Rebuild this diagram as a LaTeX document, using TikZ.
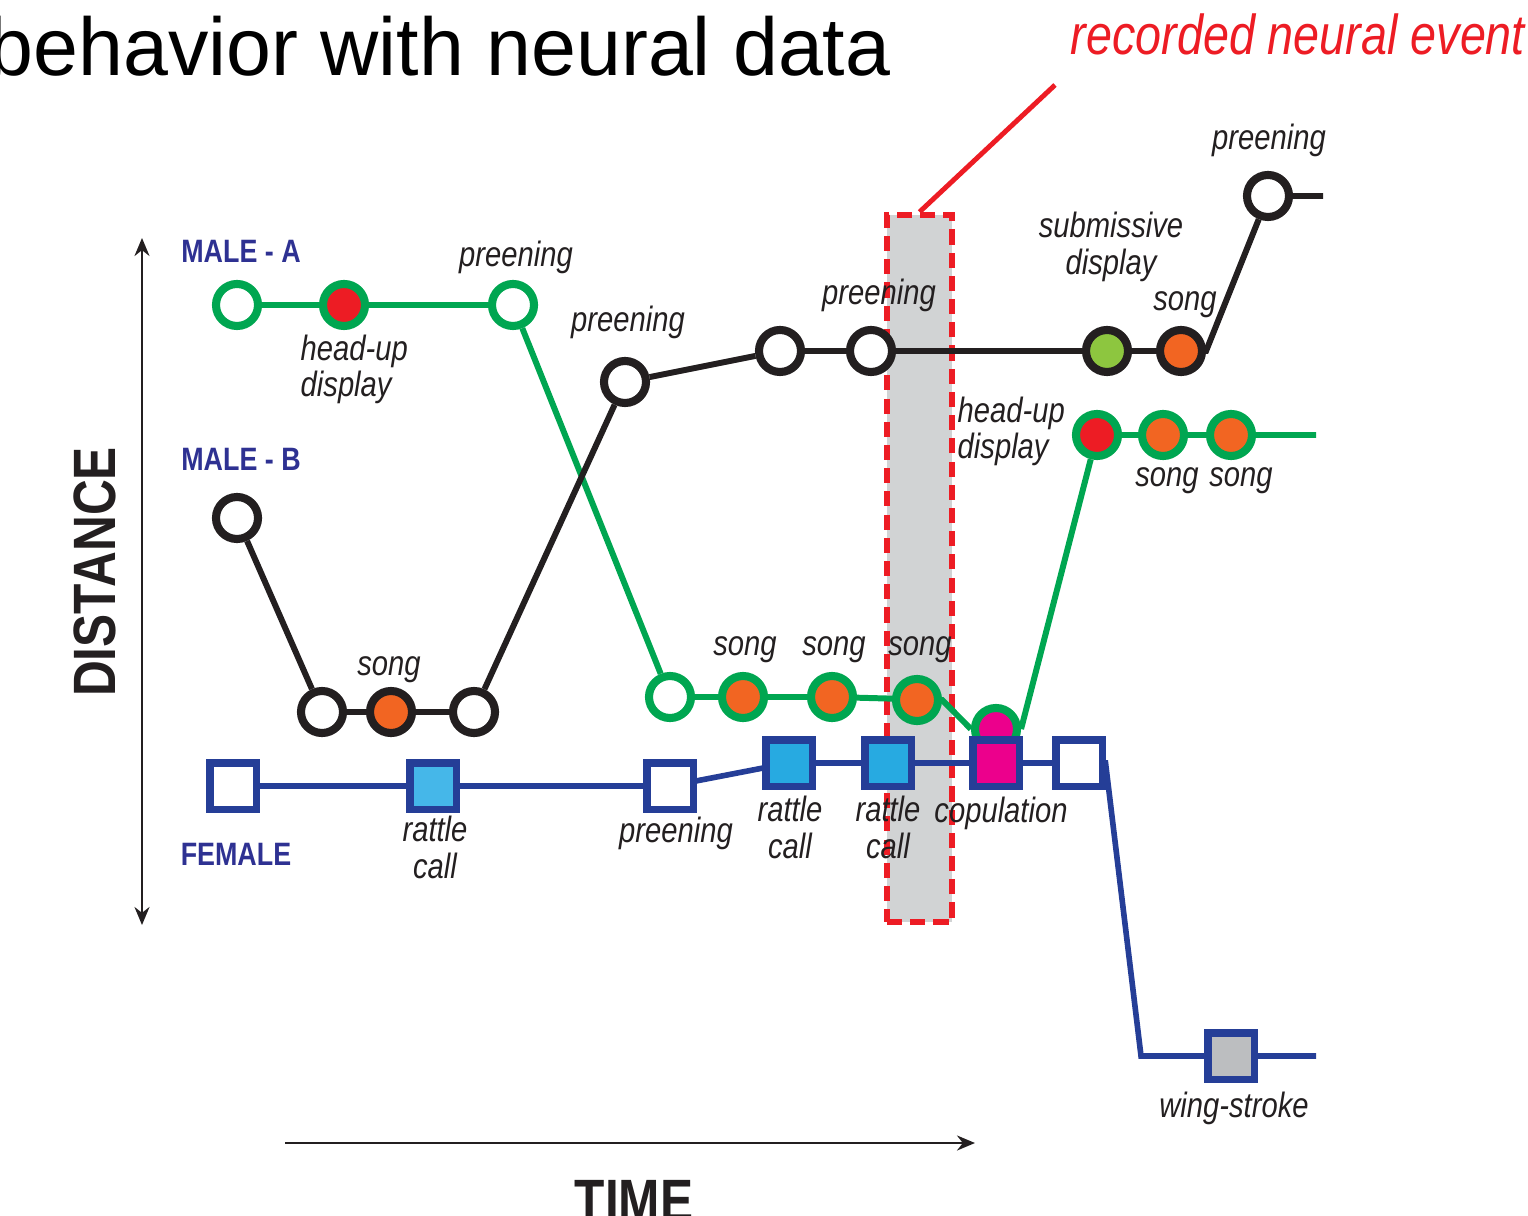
\documentclass[tikz,border=0pt]{standalone}
\usepackage{fontspec}
\setmainfont{Liberation Sans}
\newfontfamily\narrowfont[FakeStretch = 0.83]{Liberation Sans}
\newfontfamily\titlefont[FakeStretch = 0.985]{Liberation Sans}
\usetikzlibrary{arrows.meta, backgrounds}
\definecolor{maleagreen}{HTML}{00A651}
\definecolor{inkblack}{HTML}{231F20}
\definecolor{femaleblue}{HTML}{253E97}
\definecolor{tagblue}{HTML}{2E3192}
\definecolor{headred}{HTML}{ED1C24}
\definecolor{songorange}{HTML}{F26522}
\definecolor{submgreen}{HTML}{8DC63F}
\definecolor{copmagenta}{HTML}{EC008C}
\definecolor{rattleblue}{HTML}{27AAE1}
\definecolor{rattlelight}{HTML}{45B7E9}
\definecolor{winggrey}{HTML}{BCBEC0}
\definecolor{bandgrey}{HTML}{D1D3D4}

\begin{document}
\begin{tikzpicture}[x = 0.01cm, y = -0.01cm,
		malea/.style = {circle, draw = maleagreen, line width = 2.3pt, fill = white, minimum size = 0.42cm, inner sep = 0pt},
		maleb/.style = {malea, draw = inkblack},
		female/.style = {rectangle, draw = femaleblue, line width = 2pt, fill = white, minimum size = 0.46cm, inner sep = 0pt},
		track/.style = {line width = 1.7pt},
		act/.style = {font = \narrowfont\itshape\fontsize{10}{10.3}\selectfont, text = inkblack, inner sep = 0pt, anchor = base},
		who/.style = {font = \narrowfont\bfseries\fontsize{9.2}{10}\selectfont, text = tagblue, inner sep = 0pt, anchor = base},
		big/.style = {font = \narrowfont\bfseries\fontsize{17}{18}\selectfont, text = inkblack, inner sep = 0pt, anchor = base},
		axtip/.tip = {Stealth[length = 0.18cm, width = 0.15cm]}]
		\useasboundingbox (0, 0) rectangle (1528, 1216) ;
		% Title
		\node [anchor = base west, inner sep = 0pt, font = \titlefont\fontsize{23.3}{24}\selectfont] (title) at (-12, 76) {behavior with neural data} ;
		\begin{scope}[on background layer] % Recorded event
			\node [draw = headred, fill = bandgrey, line width = 1.6pt, dash pattern = on 4.3pt off 2.3pt, minimum width = 0.65cm, minimum height = 7.07cm, inner sep = 0pt] (band) at (919.5, 568.5) {} ;
		\end{scope}
		\node [anchor = base west, inner sep = 0pt, text = headred, font = \narrowfont\itshape\fontsize{16}{17}\selectfont] (eventtag) at (1070, 55) {recorded neural event} ;
		\coordinate (pointer) at (1055, 85) ;
		\draw [headred, line width = 1.4pt] (band.north) -- (pointer) ;
		% Axes
		\draw [line width = 0.7pt, inkblack, axtip-axtip] (142, 238) -- (142, 925) ;
		\draw [line width = 0.7pt, inkblack, -axtip] (285, 1143) -- (975, 1143) ;
		\node [big, rotate = 90] (distance) at (115, 572) {DISTANCE} ;
		\node [big] (time) at (634, 1221) {TIME} ;
		% Male - A
		\node [malea] (ma1) at (237, 305) {} ;
		\node [malea, fill = headred] (ma2) at (344, 305) {} ;
		\node [malea] (ma3) at (513, 305) {} ;
		\node [malea] (ma4) at (670, 697) {} ;
		\node [malea, fill = songorange] (ma5) at (743, 697) {} ;
		\node [malea, fill = songorange] (ma6) at (832, 697) {} ;
		\node [malea, fill = songorange] (ma7) at (917, 700) {} ;
		\node [malea, fill = copmagenta] (ma8) at (996, 729) {} ;
		\node [malea, fill = headred] (ma9) at (1097, 435) {} ;
		\node [malea, fill = songorange] (ma10) at (1163, 435) {} ;
		\node [malea, fill = songorange] (ma11) at (1231, 435) {} ;
		\coordinate (maend) at (1316, 435) ;
		% Male - B
		\node [maleb] (mb1) at (237, 518) {} ;
		\node [maleb] (mb2) at (322, 712) {} ;
		\node [maleb, fill = songorange] (mb3) at (391, 712) {} ;
		\node [maleb] (mb4) at (474, 712) {} ;
		\node [maleb] (mb5) at (625, 382) {} ;
		\node [maleb] (mb6) at (780, 351) {} ;
		\node [maleb] (mb7) at (871, 351) {} ;
		\node [maleb, fill = submgreen] (mb8) at (1107, 351) {} ;
		\node [maleb, fill = songorange] (mb9) at (1181, 351) {} ;
		\node [maleb] (mb10) at (1268, 196) {} ;
		\coordinate (mbend) at (1323, 196) ;
		% Female
		\node [female] (fe1) at (233, 786) {} ;
		\node [female, fill = rattlelight] (fe2) at (433, 786) {} ;
		\node [female] (fe3) at (670, 786) {} ;
		\node [female, fill = rattleblue] (fe4) at (789, 763) {} ;
		\node [female, fill = rattleblue] (fe5) at (888, 763) {} ;
		\node [female, fill = copmagenta] (fe6) at (996, 763) {} ;
		\node [female] (fe7) at (1079, 763) {} ;
		\coordinate (fecorner) at (1141, 1056) ;
		\node [female, fill = winggrey] (fe8) at (1231, 1056) {} ;
		\coordinate (feend) at (1316, 1056) ;
		% Tracks
		\begin{scope}[on background layer]
			\draw [track, maleagreen] (ma1) -- (ma2) -- (ma3) -- (ma4) -- (ma5) -- (ma6) -- (ma7.east) -- (ma8.west)
				(ma8.east) -- (ma9) -- (ma10) -- (ma11) -- (maend) ;
			\draw [track, inkblack] (mb1) -- (mb2) -- (mb3) -- (mb4) -- (mb5) -- (mb6) -- (mb7) -- (mb8) -- (mb9.east) -- (mb10) -- (mbend) ;
			\draw [track, femaleblue, line width = 1.6pt] (fe1) -- (fe2) -- (fe3) -- (fe4) -- (fe5) -- (fe6) -- (fe7.east) -- (fecorner) -- (fe8) -- (feend) ;
		\end{scope}
		% Who
		\node [who] (tagma) at (241, 263) {MALE - A} ;
		\node [who] (tagmb) at (241, 471) {MALE - B} ;
		\node [who] (tagfe) at (236, 865) {FEMALE} ;
		% Behaviours
		\node [act] (lma3) at (516, 267) {preening} ;
		\node [act] (lmb5) at (628, 332) {preening} ;
		\node [act] (lmb7) at (879, 305) {preening} ;
		\node [act] (lmb10) at (1269, 150) {preening} ;
		\node [act] (lmb9) at (1185, 311) {song} ;
		\node [act] (lmb3) at (389, 675) {song} ;
		\foreach \n/\x in {5/745, 6/834, 7/920}{
			\node [act] (lma\n) at (\x, 655) {song} ;
		}
		\node [act] (lma10) at (1167, 487) {song} ;
		\node [act] (lma11) at (1241, 487) {song} ;
		\node [act] (lfe3) at (676, 842) {preening} ;
		\node [act] (lfe6) at (1001, 822) {copulation} ;
		\node [act] (lfe8) at (1234, 1117) {wing-stroke} ;
		\node [act, align = left, anchor = west] (lma2) at (300, 369.5) {head-up\\display} ;
		\node [act, align = left, anchor = west] (lma9) at (957, 431.5) {head-up\\display} ;
		\node [act, align = center, anchor = center] (lmb8) at (1111, 247) {submissive\\display} ;
		\node [act, align = center, anchor = center] (lfe2) at (435, 847.5) {rattle\\call} ;
		\node [act, align = center, anchor = center] (lfe4) at (790, 827.5) {rattle\\call} ;
		\node [act, align = center, anchor = center] (lfe5) at (888, 827.5) {rattle\\call} ;
	\end{tikzpicture}
\end{document}
